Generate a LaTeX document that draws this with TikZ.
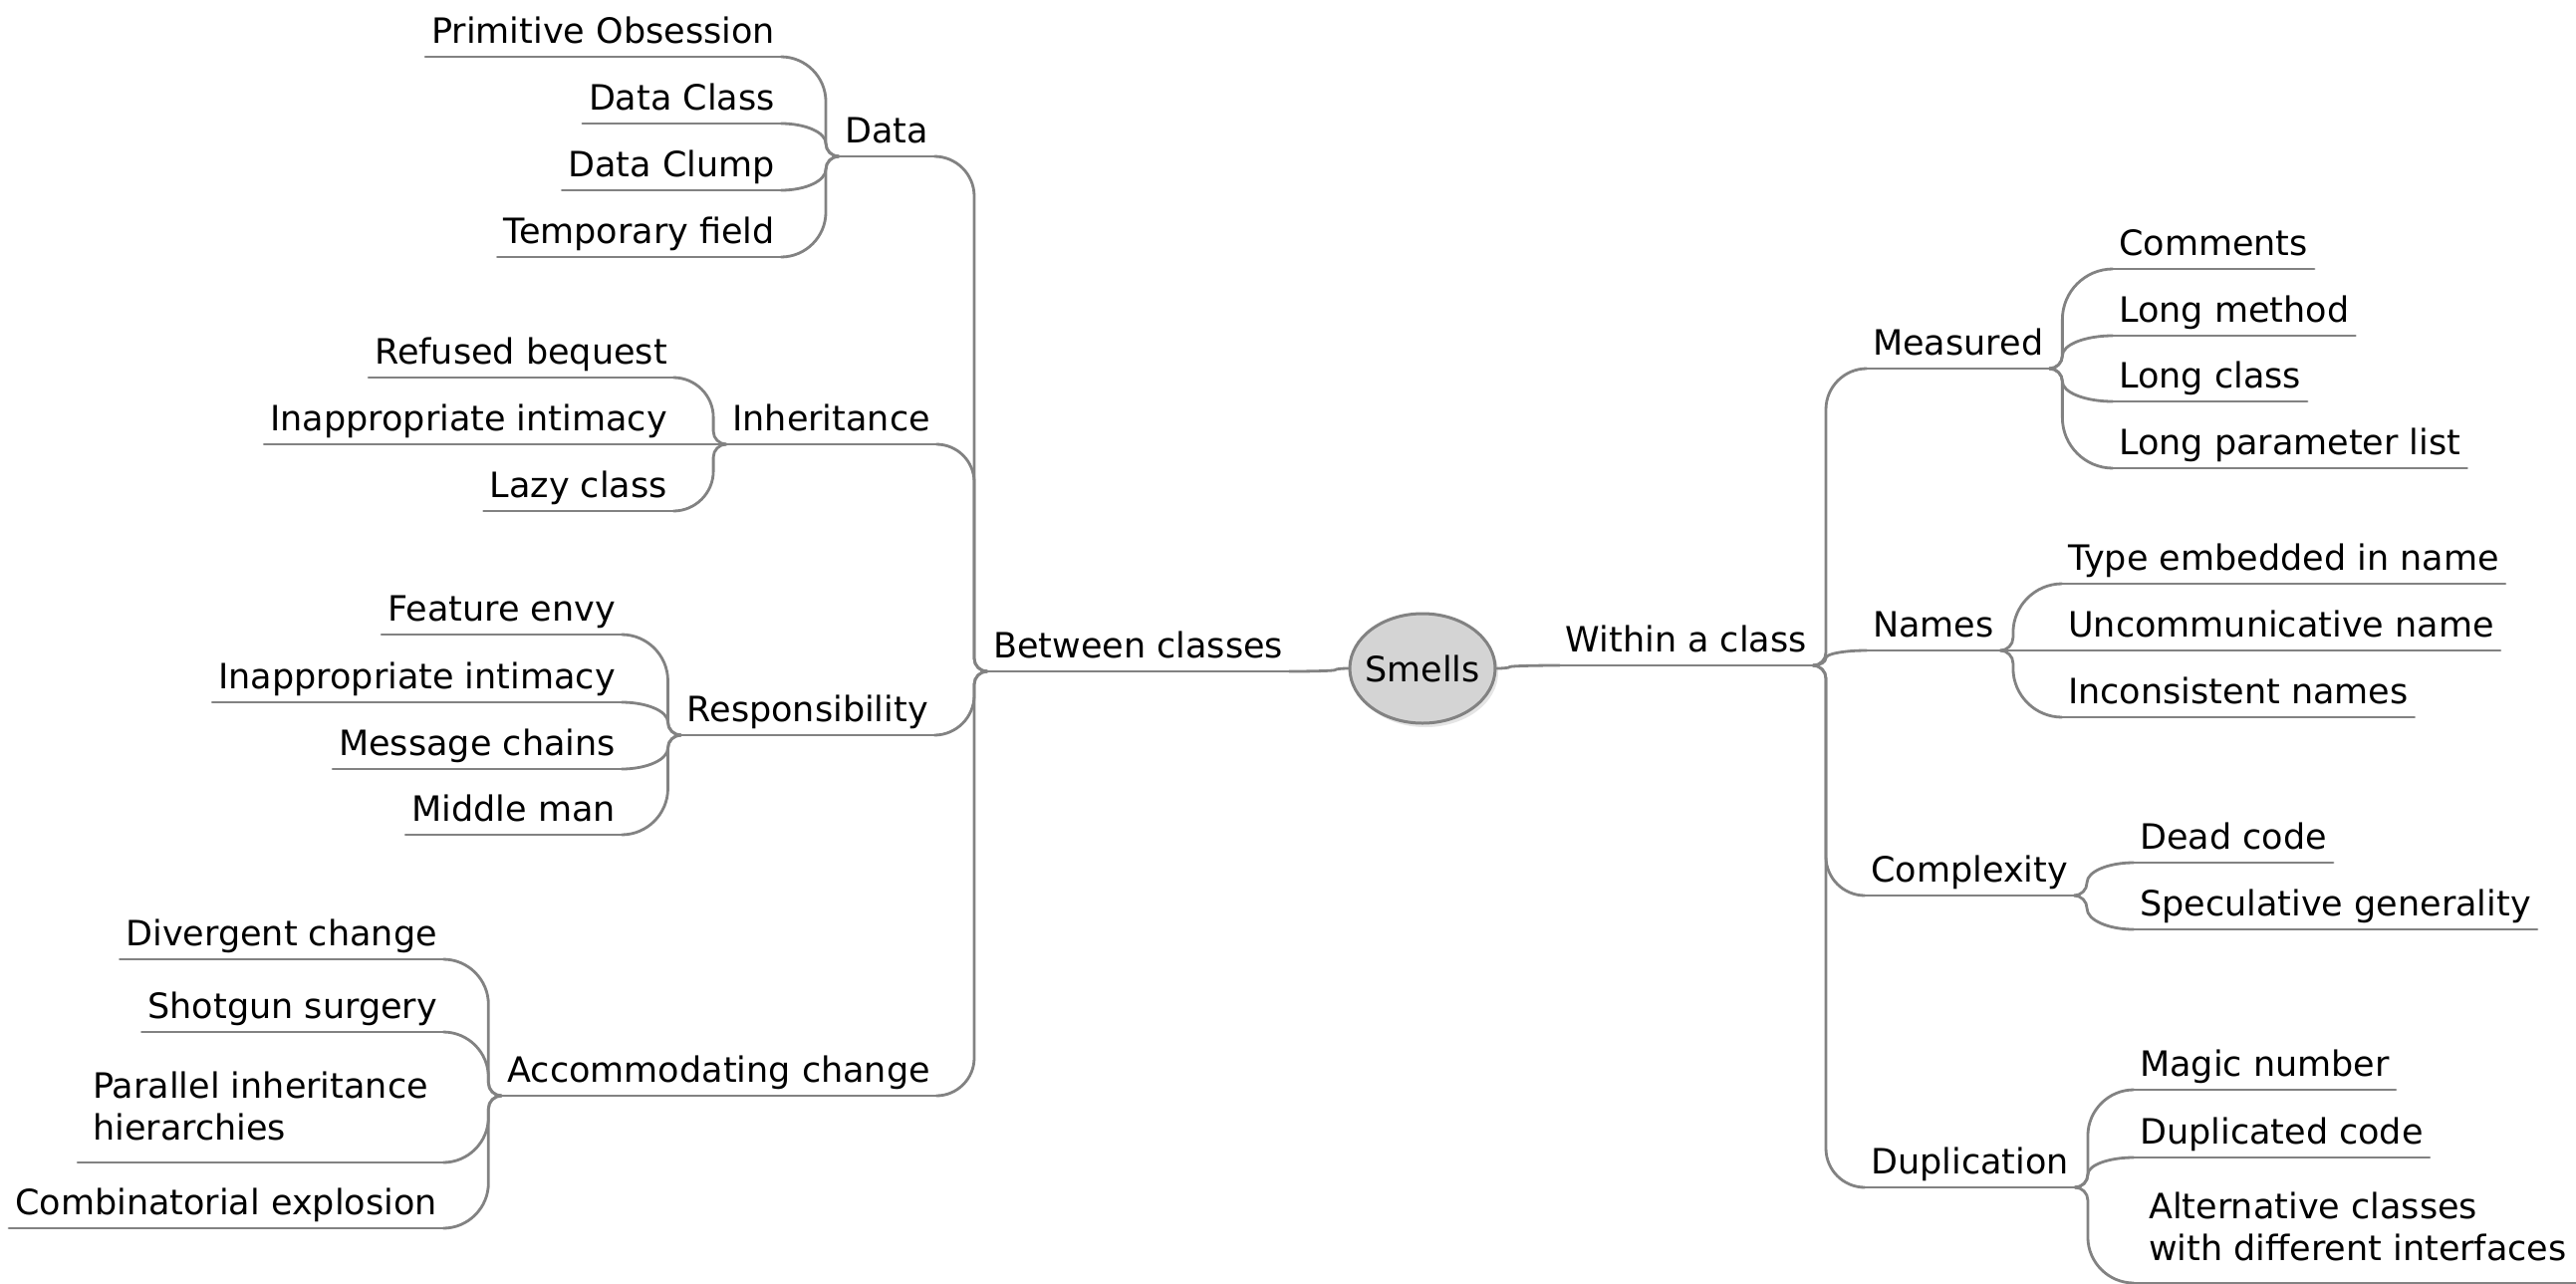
\documentclass[tikz,border=0pt]{standalone}
\usepackage{fontspec}
\setmainfont{DejaVu Sans}
\usetikzlibrary{calc,shapes.geometric}

\definecolor{linkgray}{HTML}{828282}
\definecolor{rootfill}{HTML}{D4D4D4}

\tikzset{
  link/.style={draw=linkgray, line width=2.8pt, line cap=round, line join=round},
  topic/.style={font=\fontsize{35}{42}\selectfont, inner xsep=6pt, inner ysep=0pt,
                text height=26pt, text depth=13pt},
  multitopic/.style={font=\fontsize{35}{42}\selectfont, align=left,
                inner xsep=15pt, inner ysep=22pt},
  root/.style={ellipse, draw=linkgray, line width=3pt, fill=rootfill,
               minimum width=146pt, minimum height=110pt,
               inner xsep=-8pt, inner ysep=0pt,
               font=\fontsize{35}{42}\selectfont},
}

% Mind-map branch: short rounded hook out of the parent, a vertical run,
% then a rounded turn into the child's underline.
\newcommand\mmlink[2]{%
  \draw[link] let \p1=(#1), \p2=(#2),
      \n1={sign(\x2-\x1)},
      \n2={sign(\y2-\y1)},
      \n3={abs(\y2-\y1)},
      \n4={\x1+\n1*13},
      \n5={min(13,\n3/2)},
      \n6={min(abs(\x2-\n4),\n3-\n5)},
      \n7={\x1+\n1*13*0.55},
      \n8={\n4+(\x2-\n4)*0.45}
    in (\p1) .. controls (\n7,\y1) and (\n4,{\y1+\n2*\n5*0.45}) .. (\n4,{\y1+\n2*\n5})
       -- (\n4,{\y2-\n2*\n6})
       .. controls (\n4,{\y2-\n2*\n6*0.45}) and (\n8,\y2) .. (\p2);
}

\begin{document}
\begin{tikzpicture}[x=1pt,y=-1pt]
\useasboundingbox (0,0) rectangle (2586,1288);
\clip (0,0) rectangle (2586,1288);

% soft shadow under the root
\fill[black!10] (1431,675) ellipse [x radius=73, y radius=55];
\node[root] (smells) at (1428,671) {Smells};

% ---- left half: between classes ----
\node[topic, anchor=south west] (bc)   at (991,674)  {Between classes};
\node[topic, anchor=south east] (data) at (938,157)  {Data};
\node[topic, anchor=south east] (inh)  at (940,446)  {Inheritance};
\node[topic, anchor=south east] (resp) at (938,738)  {Responsibility};
\node[topic, anchor=south east] (acc)  at (940,1100) {Accommodating change};

\node[topic, anchor=south east] (prim)   at (784,57)  {Primitive Obsession};
\node[topic, anchor=south east] (dclass) at (784,124) {Data Class};
\node[topic, anchor=south east] (dclump) at (784,191) {Data Clump};
\node[topic, anchor=south east] (tempf)  at (784,258) {Temporary field};

\node[topic, anchor=south east] (refused) at (676,379) {Refused bequest};
\node[topic, anchor=south east] (inapa)   at (676,446) {Inappropriate intimacy};
\node[topic, anchor=south east] (lazy)    at (676,513) {Lazy class};

\node[topic, anchor=south east] (feature) at (624,637) {Feature envy};
\node[topic, anchor=south east] (inapb)   at (624,705) {Inappropriate intimacy};
\node[topic, anchor=south east] (msg)     at (624,772) {Message chains};
\node[topic, anchor=south east] (middle)  at (624,838) {Middle man};

\node[topic, anchor=south east] (diverg)   at (445,963)  {Divergent change};
\node[topic, anchor=south east] (shotgun)  at (445,1036) {Shotgun surgery};
\node[multitopic, anchor=south east] (parallel) at (445,1167) {Parallel inheritance\\hierarchies};
\node[topic, anchor=south east] (combin)   at (445,1233) {Combinatorial explosion};

% ---- right half: within a class ----
\node[topic, anchor=south east] (wc)   at (1820,668)  {Within a class};
\node[topic, anchor=south west] (meas) at (1874,370)  {Measured};
\node[topic, anchor=south west] (names) at (1874,653) {Names};
\node[topic, anchor=south west] (cplx) at (1872,899)  {Complexity};
\node[topic, anchor=south west] (dup)  at (1872,1192) {Duplication};

\node[topic, anchor=south west] (comments) at (2121,270) {Comments};
\node[topic, anchor=south west] (lmethod)  at (2121,337) {Long method};
\node[topic, anchor=south west] (lclass)   at (2121,403) {Long class};
\node[topic, anchor=south west] (lparam)   at (2121,470) {Long parameter list};

\node[topic, anchor=south west] (typeemb) at (2070,586) {Type embedded in name};
\node[topic, anchor=south west] (uncomm)  at (2070,653) {Uncommunicative name};
\node[topic, anchor=south west] (incons)  at (2070,720) {Inconsistent names};

\node[topic, anchor=south west] (dead) at (2142,866) {Dead code};
\node[topic, anchor=south west] (spec) at (2142,933) {Speculative generality};

\node[topic, anchor=south west] (magic)   at (2142,1094) {Magic number};
\node[topic, anchor=south west] (dupcode) at (2142,1162) {Duplicated code};
\node[multitopic, anchor=south west] (alt) at (2142,1288) {Alternative classes\\with different interfaces};

% underlines
\foreach \t in {bc,data,inh,resp,acc,prim,dclass,dclump,tempf,refused,inapa,lazy,
                feature,inapb,msg,middle,diverg,shotgun,parallel,combin,
                wc,meas,names,cplx,dup,comments,lmethod,lclass,lparam,
                typeemb,uncomm,incons,dead,spec,magic,dupcode,alt}
  \draw[link] (\t.south west) -- (\t.south east);

% branches
\mmlink{smells.west}{bc.south east}
\mmlink{smells.east}{wc.south west}

\foreach \c in {data,inh,resp,acc} {\mmlink{bc.south west}{\c.south east}}
\foreach \c in {prim,dclass,dclump,tempf} {\mmlink{data.south west}{\c.south east}}
\foreach \c in {refused,inapa,lazy} {\mmlink{inh.south west}{\c.south east}}
\foreach \c in {feature,inapb,msg,middle} {\mmlink{resp.south west}{\c.south east}}
\foreach \c in {diverg,shotgun,parallel,combin} {\mmlink{acc.south west}{\c.south east}}

\foreach \c in {meas,names,cplx,dup} {\mmlink{wc.south east}{\c.south west}}
\foreach \c in {comments,lmethod,lclass,lparam} {\mmlink{meas.south east}{\c.south west}}
\foreach \c in {typeemb,uncomm,incons} {\mmlink{names.south east}{\c.south west}}
\foreach \c in {dead,spec} {\mmlink{cplx.south east}{\c.south west}}
\foreach \c in {magic,dupcode,alt} {\mmlink{dup.south east}{\c.south west}}
\end{tikzpicture}
\end{document}
